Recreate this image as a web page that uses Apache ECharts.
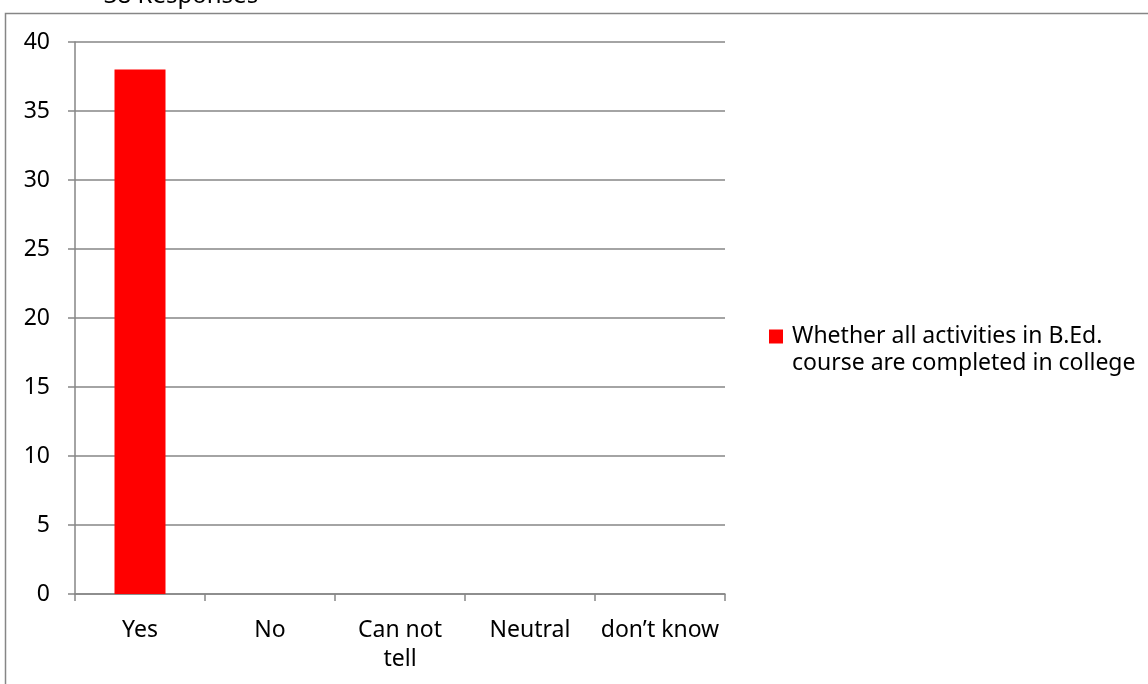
<!DOCTYPE html>
<html><head><meta charset="utf-8">
<script src="https://cdn.jsdelivr.net/npm/echarts@6/dist/echarts.min.js"></script>
<style>html,body{margin:0;padding:0;background:#fff}#c{width:1148px;height:684px}</style>
</head><body><div id="c"></div>
<script>
const categories = ['Yes', 'No', 'Can not\ntell', 'Neutral', 'don\u2019t know'];
const values = [38, 0, 0, 0, 0];
const seriesName = 'Whether all activities in B.Ed.\ncourse are completed in college';
const titleText = '38 Responses';
const yTicks = [0, 5, 10, 15, 20, 25, 30, 35, 40];

const font = 'Noto Sans';
const chart = echarts.init(document.getElementById('c'));
chart.setOption({
  animation: false,
  textStyle: { fontFamily: font },
  graphic: [
    { type: 'rect', shape: { x: 5.5, y: 13.5, width: 1200, height: 700 }, style: { fill: 'none', stroke: '#868686', lineWidth: 1.5 }, z: 0, silent: true },
    { type: 'text', x: 181, y: -4, style: { text: titleText, font: '24px "Noto Sans"', fill: '#000', align: 'center', verticalAlign: 'middle' } }
  ],
  grid: { left: 75, right: 423, top: 42, bottom: 90 },
  legend: {
    left: 764, top: 318, orient: 'vertical',
    itemWidth: 14, itemHeight: 41, itemGap: 8,
    icon: 'path://M0,0H14V14H0Z M0,41',
    textStyle: { fontSize: 23, fontFamily: font, color: '#000', lineHeight: 27, padding: [0, 0, 0, 4] },
    data: [seriesName]
  },
  xAxis: {
    type: 'category', data: categories, boundaryGap: true,
    axisLine: { lineStyle: { color: '#868686', width: 1.5 } },
    axisTick: { show: true, alignWithLabel: false, length: 7, lineStyle: { color: '#868686', width: 1.5 } },
    axisLabel: { color: '#000', fontSize: 23, fontFamily: font, margin: 22, lineHeight: 29, interval: 0 }
  },
  yAxis: {
    type: 'value', min: 0, max: 40, interval: 5,
    axisLine: { show: true, lineStyle: { color: '#868686', width: 1.5 } },
    axisTick: { show: true, length: 7, lineStyle: { color: '#868686', width: 1.5 } },
    splitLine: { lineStyle: { color: '#868686', width: 1.5 } },
    axisLabel: { color: '#000', fontSize: 23, fontFamily: font, margin: 25,
      formatter: v => yTicks.includes(v) ? String(v) : '' }
  },
  series: [{
    name: seriesName, type: 'bar', data: values, barWidth: 51,
    itemStyle: { color: '#ff0000' }
  }]
});
</script></body></html>
